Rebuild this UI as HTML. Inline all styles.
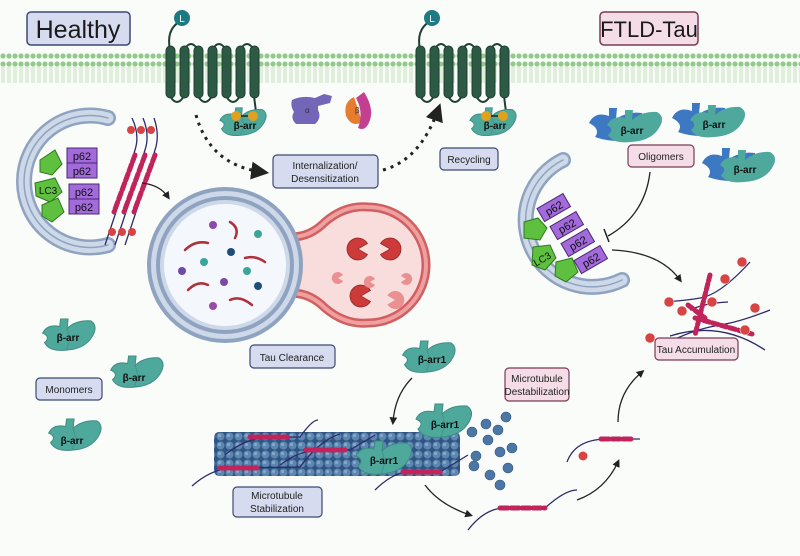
<!DOCTYPE html>
<html><head><meta charset="utf-8"><style>
body{margin:0;background:#fafcfa}
svg{display:block;font-family:"Liberation Sans",sans-serif}
</style></head><body>
<svg width="800" height="556" viewBox="0 0 800 556" xmlns="http://www.w3.org/2000/svg">
<defs>
<pattern id="mem" x="0" y="0" width="6" height="30" patternUnits="userSpaceOnUse">
<circle cx="3" cy="4" r="2.6" fill="#93c98b"/>
<circle cx="3" cy="26" r="2.6" fill="#93c98b"/>
<line x1="2" y1="7" x2="2" y2="23" stroke="#b6dcae" stroke-width="0.8"/>
<line x1="4" y1="7" x2="4" y2="23" stroke="#b6dcae" stroke-width="0.8"/>
</pattern>
<pattern id="mt" x="0" y="0" width="9" height="9" patternUnits="userSpaceOnUse">
<rect width="9" height="9" fill="#2f5683"/>
<circle cx="4.5" cy="4.5" r="4" fill="#5d86b0"/>
<circle cx="3.5" cy="3.5" r="1.6" fill="#86a8c8"/>
</pattern>
<symbol id="ba" viewBox="0 0 60 36">
<path d="M1,16 Q6,6 19,9 L20,1 L28,1 L27,11 Q36,2 52,3 Q60,8 54,19 Q46,33 26,34 Q8,36 3,26 Q10,20 1,16Z" fill="#4fa89c" stroke="#3d8c81" stroke-width="1"/>
<path d="M27,11 L30,22 L26,34" fill="none" stroke="#3f9589" stroke-width="1"/>
</symbol>
<symbol id="bo" viewBox="0 0 80 36">
<path d="M2,16 Q8,4 22,9 L22,1 L30,1 L29,12 Q40,4 55,6 L58,30 Q30,38 8,30 Q14,22 2,16Z" fill="#3d78c2"/>
<path d="M20,18 Q26,8 38,11 L38,3 L46,3 L45,13 Q55,4 70,5 Q79,10 72,21 Q64,34 44,35 Q26,37 21,28 Q28,22 20,18Z" fill="#4fa89c"/>
</symbol>
<g id="rec">
<g fill="none" stroke="#1e3f31" stroke-width="2">
<path d="M4,50 Q0,30 13,22"/>
<path d="M4,96 Q11,108 18,96"/><path d="M32,96 Q39,108 46,96"/><path d="M60,96 Q67,108 74,96"/>
<path d="M18,50 Q25,38 32,50"/><path d="M46,50 Q53,38 60,50"/><path d="M74,50 Q81,38 88,50"/>
<path d="M88,96 L90,112"/>
</g>
<g fill="#2d5a45" stroke="#1e3f31">
<rect x="0" y="46" width="9" height="52" rx="4.5"/><rect x="14" y="46" width="9" height="52" rx="4.5"/><rect x="28" y="46" width="9" height="52" rx="4.5"/><rect x="42" y="46" width="9" height="52" rx="4.5"/><rect x="56" y="46" width="9" height="52" rx="4.5"/><rect x="70" y="46" width="9" height="52" rx="4.5"/><rect x="84" y="46" width="9" height="52" rx="4.5"/>
</g>
</g>
<marker id="ah" viewBox="0 0 10 10" refX="6" refY="5" markerWidth="6" markerHeight="6" orient="auto"><path d="M0,0L10,5L0,10Z" fill="#222"/></marker>
</defs>
<rect width="800" height="556" fill="#fafcfa"/>
<rect x="0" y="53" width="800" height="30" fill="url(#mem)"/>
<rect x="27" y="12" width="103" height="33" rx="4" fill="#d6dbef" stroke="#3c4a73" stroke-width="1.5"/>
<text x="78" y="38" font-size="25" text-anchor="middle" fill="#1a1a1a">Healthy</text>
<rect x="600" y="12" width="98" height="33" rx="4" fill="#f4dde6" stroke="#7a3a55" stroke-width="1.5"/>
<text x="649" y="37" font-size="22" text-anchor="middle" fill="#1a1a1a">FTLD-Tau</text>
<use href="#rec" x="166" y="0"/>
<use href="#rec" x="416" y="0"/>
<circle cx="182" cy="18" r="8" fill="#1d7a82"/><text x="182" y="22" font-size="10" fill="#fff" text-anchor="middle">L</text>
<circle cx="432" cy="18" r="8" fill="#1d7a82"/><text x="432" y="22" font-size="10" fill="#fff" text-anchor="middle">L</text>
<use href="#ba" x="216" y="107" width="56" height="30"/>
<text x="245" y="129" font-size="10" font-weight="bold" text-anchor="middle" fill="#111">β-arr</text>
<circle cx="236" cy="116" r="5" fill="#e0a020"/><circle cx="253" cy="116" r="5" fill="#e0a020"/>
<line x1="241" y1="116" x2="248" y2="116" stroke="#222" stroke-width="1.5"/>
<use href="#ba" x="466" y="107" width="56" height="30"/>
<text x="495" y="129" font-size="10" font-weight="bold" text-anchor="middle" fill="#111">β-arr</text>
<circle cx="486" cy="116" r="5" fill="#e0a020"/><circle cx="503" cy="116" r="5" fill="#e0a020"/>
<line x1="491" y1="116" x2="498" y2="116" stroke="#222" stroke-width="1.5"/>
<path d="M292,100 Q302,95 315,98 L324,94 L332,96 L330,103 L318,106 L318,110 Q322,118 315,124 L296,124 Q290,118 294,112 Q290,106 292,100Z" fill="#7365b8"/>
<text x="305" y="113" font-size="8" fill="#333">α</text>
<path d="M354,97 Q343,102 346,116 Q352,128 362,122 Z" fill="#e57c30"/>
<path d="M364,92 Q374,108 370,120 Q366,132 358,128 Q364,112 356,98Z" fill="#c2408f"/>
<text x="355" y="113" font-size="8" fill="#333">β</text>
<path d="M196,115 Q210,165 262,172" fill="none" stroke="#222" stroke-width="3" stroke-dasharray="3,5" marker-end="url(#ah)"/>
<path d="M383,170 Q420,160 438,110" fill="none" stroke="#222" stroke-width="3" stroke-dasharray="3,5" marker-end="url(#ah)"/>
<rect x="273" y="155" width="105" height="33" rx="4" fill="#d6dbef" stroke="#3c4a73" stroke-width="1.2"/>
<text x="325" y="169" font-size="10" text-anchor="middle" fill="#222">Internalization/</text>
<text x="325" y="182" font-size="10" text-anchor="middle" fill="#222">Desensitization</text>
<rect x="440" y="148" width="58" height="22" rx="4" fill="#d6dbef" stroke="#3c4a73" stroke-width="1.2"/>
<text x="469" y="163" font-size="10" text-anchor="middle" fill="#222">Recycling</text>
<g fill="none" stroke-linecap="round">
<path d="M108,118 A66,66 0 1,0 108,245" stroke="#8fa3c0" stroke-width="16"/>
<path d="M108,118 A66,66 0 1,0 108,245" stroke="#cdd8e8" stroke-width="11"/>
<path d="M108,118 A66,66 0 1,0 108,245" stroke="#8fa3c0" stroke-width="1.5"/>
</g>
<g fill="#5fbf3f" stroke="#2e7a20"><path d="M40,160 L55,150 L62,164 L52,175 L40,172Z"/><path d="M35,183 L55,178 L62,192 L50,202 L36,196Z"/><path d="M42,205 L58,198 L64,212 L52,222 L42,216Z"/></g>
<text x="48" y="194" font-size="10" text-anchor="middle" fill="#111">LC3</text>
<g fill="#a26adb" stroke="#4a2870"><rect x="67" y="148" width="30" height="15"/><rect x="67" y="163" width="30" height="15"/><rect x="69" y="184" width="30" height="15"/><rect x="69" y="199" width="30" height="15"/></g>
<g font-size="11" text-anchor="middle" fill="#111"><text x="82" y="160">p62</text><text x="82" y="175">p62</text><text x="84" y="196">p62</text><text x="84" y="211">p62</text></g>
<g fill="none" stroke="#2e2a6a" stroke-width="1.3"><path d="M132,118 Q140,135 135,150 L115,215 Q110,230 105,245"/><path d="M143,118 Q150,135 145,150 L125,215 Q120,230 115,245"/><path d="M154,118 Q160,135 155,150 L135,215 Q130,230 125,245"/></g>
<g stroke="#c1245a" stroke-width="5" stroke-linecap="round" stroke-dasharray="7,3"><line x1="135" y1="155" x2="114" y2="212"/><line x1="145" y1="155" x2="124" y2="212"/><line x1="155" y1="155" x2="134" y2="212"/></g>
<g fill="#d84444"><circle cx="131" cy="130" r="4"/><circle cx="141" cy="130" r="4"/><circle cx="151" cy="130" r="4"/><circle cx="112" cy="232" r="4"/><circle cx="122" cy="232" r="4"/><circle cx="132" cy="232" r="4"/></g>
<path d="M142,183 Q160,185 168,197" fill="none" stroke="#222" stroke-width="1.3" marker-end="url(#ah)"/>
<path d="M280,235 Q305,242 325,222 Q345,205 368,207 A58,58 0 0,1 368,323 Q345,325 325,308 Q305,288 280,295Z" fill="#f9dcdc" stroke="#d25f5f" stroke-width="9"/>
<path d="M280,235 Q305,242 325,222 Q345,205 368,207 A58,58 0 0,1 368,323 Q345,325 325,308 Q305,288 280,295" fill="none" stroke="#eea0a0" stroke-width="4"/>
<circle cx="225" cy="265" r="78" fill="#8fa3c0"/>
<circle cx="225" cy="265" r="74" fill="#cdd8e8"/>
<circle cx="225" cy="265" r="69" fill="#8fa3c0"/>
<circle cx="225" cy="265" r="65" fill="#cdd8e8"/>
<circle cx="225" cy="265" r="61" fill="#f4f7fc"/>
<g fill="none" stroke="#b0303a" stroke-width="2.5" stroke-linecap="round"><path d="M185,250 Q195,240 208,243"/><path d="M230,222 Q240,228 235,238"/><path d="M245,258 Q255,255 265,262"/><path d="M188,290 Q198,280 208,285"/><path d="M230,300 Q240,295 252,305"/></g>
<g><circle cx="213" cy="225" r="4" fill="#8e4aa8"/><circle cx="258" cy="234" r="4" fill="#3aa69a"/><circle cx="231" cy="252" r="4" fill="#1f4d7a"/><circle cx="204" cy="262" r="4" fill="#3aa69a"/><circle cx="182" cy="271" r="4" fill="#6b4aa8"/><circle cx="247" cy="271" r="4" fill="#3aa69a"/><circle cx="224" cy="282" r="4" fill="#7b4aa8"/><circle cx="258" cy="286" r="4" fill="#1f4d7a"/><circle cx="213" cy="306" r="4" fill="#9a4aa8"/></g>
<g fill="#cc3a3a" stroke="#8a2020" stroke-width="0.7">
<path d="M358,249 L367.5,254.5 A11,11 0 1,1 367.5,243.5Z"/>
<path d="M390,249 L380.5,243.5 A11,11 0 1,1 380.5,254.5Z"/>
<path d="M361,296 L370.5,301.5 A11,11 0 1,1 370.5,290.5Z"/>
</g>
<g fill="#ea9090">
<path d="M338,278 L343,281 A6,6 0 1,1 343,275Z"/>
<path d="M370,282 L375,285 A6,6 0 1,1 375,279Z"/>
<path d="M406,279 L401,276 A6,6 0 1,1 401,282Z"/>
<path d="M395,300 L387.5,295.5 A9,9 0 1,1 387.5,304.5Z"/>
</g>
<rect x="250" y="345" width="85" height="23" rx="4" fill="#d6dbef" stroke="#3c4a73" stroke-width="1.2"/>
<text x="292" y="361" font-size="10" text-anchor="middle" fill="#222">Tau Clearance</text>
<use href="#ba" x="40" y="318" width="60" height="34"/><text x="68" y="341" font-size="10" font-weight="bold" text-anchor="middle" fill="#111">β-arr</text>
<use href="#ba" x="108" y="355" width="60" height="34"/><text x="134" y="381" font-size="10" font-weight="bold" text-anchor="middle" fill="#111">β-arr</text>
<use href="#ba" x="46" y="418" width="60" height="34"/><text x="72" y="444" font-size="10" font-weight="bold" text-anchor="middle" fill="#111">β-arr</text>
<rect x="36" y="378" width="66" height="22" rx="4" fill="#d6dbef" stroke="#3c4a73" stroke-width="1.2"/>
<text x="69" y="393" font-size="10" text-anchor="middle" fill="#222">Monomers</text>
<use href="#bo" x="587" y="107" width="80" height="36"/><text x="632" y="134" font-size="10" font-weight="bold" text-anchor="middle" fill="#111">β-arr</text>
<use href="#bo" x="670" y="102" width="80" height="36"/><text x="714" y="128" font-size="10" font-weight="bold" text-anchor="middle" fill="#111">β-arr</text>
<use href="#bo" x="700" y="147" width="80" height="36"/><text x="745" y="173" font-size="10" font-weight="bold" text-anchor="middle" fill="#111">β-arr</text>
<rect x="628" y="145" width="66" height="22" rx="4" fill="#f4dde6" stroke="#7a3a55" stroke-width="1.2"/>
<text x="661" y="160" font-size="10" text-anchor="middle" fill="#222">Oligomers</text>
<g fill="none" stroke-linecap="round">
<path d="M563,160 A66,66 0 1,0 622,280" stroke="#8fa3c0" stroke-width="16"/>
<path d="M563,160 A66,66 0 1,0 622,280" stroke="#cdd8e8" stroke-width="11"/>
<path d="M563,160 A66,66 0 1,0 622,280" stroke="#8fa3c0" stroke-width="1.5"/>
</g>
<g fill="#5fbf3f" stroke="#2e7a20"><path d="M524,222 L538,218 L547,228 L540,240 L524,238Z"/><path d="M533,247 L550,245 L556,258 L545,270 L532,265Z"/><path d="M556,262 L572,258 L578,272 L566,282 L555,276Z"/></g>
<text x="544" y="262" font-size="10" text-anchor="middle" fill="#111" transform="rotate(-30 544 262)">LC3</text>
<g fill="#a26adb" stroke="#4a2870"><rect x="539" y="200" width="30" height="15" transform="rotate(-30 554 208)"/><rect x="552" y="218" width="30" height="15" transform="rotate(-30 567 226)"/><rect x="563" y="235" width="30" height="15" transform="rotate(-30 578 243)"/><rect x="576" y="252" width="30" height="15" transform="rotate(-30 591 260)"/></g>
<g font-size="11" text-anchor="middle" fill="#111"><text x="554" y="212" transform="rotate(-30 554 208)">p62</text><text x="567" y="230" transform="rotate(-30 567 226)">p62</text><text x="578" y="247" transform="rotate(-30 578 243)">p62</text><text x="591" y="264" transform="rotate(-30 591 260)">p62</text></g>
<path d="M650,172 Q645,215 608,236" fill="none" stroke="#222" stroke-width="1.3"/>
<line x1="604" y1="229" x2="609" y2="242" stroke="#222" stroke-width="1.5"/>
<path d="M612,250 Q660,252 680,280" fill="none" stroke="#222" stroke-width="1.3" marker-end="url(#ah)"/>
<g fill="none" stroke="#2e2a6a" stroke-width="1.3"><path d="M665,302 Q690,300 700,298 Q720,295 750,262"/><path d="M664,345 Q690,330 720,325 Q740,322 770,310"/><path d="M670,336 Q720,320 765,350"/><path d="M690,310 Q705,303 728,302"/></g>
<g stroke="#c1245a" stroke-width="5" stroke-linecap="round" stroke-dasharray="6,3"><line x1="710" y1="275" x2="695" y2="335"/><line x1="695" y1="318" x2="752" y2="334"/><line x1="688" y1="305" x2="705" y2="318"/></g>
<g fill="#d84444" stroke="#fff" stroke-width="0.5"><circle cx="742" cy="262" r="5"/><circle cx="725" cy="279" r="5"/><circle cx="669" cy="302" r="5"/><circle cx="682" cy="311" r="5"/><circle cx="712" cy="302" r="5"/><circle cx="755" cy="308" r="5"/><circle cx="745" cy="330" r="5"/><circle cx="650" cy="338" r="5"/><circle cx="675" cy="345" r="5"/></g>
<rect x="655" y="338" width="83" height="22" rx="4" fill="#f4dde6" stroke="#7a3a55" stroke-width="1.2"/>
<text x="696" y="353" font-size="10" text-anchor="middle" fill="#222">Tau Accumulation</text>
<rect x="214" y="432" width="246" height="44" rx="5" fill="url(#mt)"/>
<g fill="#4c77a4" stroke="#2f5683" stroke-width="0.6"><circle cx="472" cy="432" r="5"/><circle cx="486" cy="424" r="5"/><circle cx="506" cy="417" r="5"/><circle cx="488" cy="440" r="5"/><circle cx="500" cy="452" r="5"/><circle cx="476" cy="456" r="5"/><circle cx="512" cy="448" r="5"/><circle cx="490" cy="475" r="5"/><circle cx="508" cy="468" r="5"/><circle cx="498" cy="430" r="5"/><circle cx="474" cy="466" r="5"/><circle cx="500" cy="485" r="5"/></g>
<g fill="none" stroke="#2e2a6a" stroke-width="1.3"><path d="M192,486 Q210,470 230,468 L300,467 Q320,440 340,434"/><path d="M225,455 Q245,438 270,437 L300,437 Q312,420 318,420"/><path d="M280,465 Q300,450 320,450 L350,450 Q375,435 375,435"/><path d="M375,490 Q390,475 405,472 L440,472 Q460,460 468,455"/></g>
<g stroke="#c1245a" stroke-width="5" stroke-linecap="round" stroke-dasharray="8,3"><line x1="220" y1="468" x2="257" y2="468"/><line x1="250" y1="437" x2="287" y2="437"/><line x1="306" y1="450" x2="345" y2="450"/><line x1="403" y1="472" x2="440" y2="472"/></g>
<use href="#ba" x="354" y="440" width="62" height="36"/><text x="384" y="464" font-size="10" font-weight="bold" text-anchor="middle" fill="#111">β-arr1</text>
<use href="#ba" x="414" y="403" width="62" height="36"/><text x="445" y="428" font-size="10" font-weight="bold" text-anchor="middle" fill="#111">β-arr1</text>
<use href="#ba" x="400" y="340" width="60" height="34"/><text x="432" y="363" font-size="10" font-weight="bold" text-anchor="middle" fill="#111">β-arr1</text>
<path d="M412,378 Q395,395 393,422" fill="none" stroke="#222" stroke-width="1.3" marker-end="url(#ah)"/>
<rect x="505" y="368" width="64" height="33" rx="4" fill="#f4dde6" stroke="#7a3a55" stroke-width="1.2"/>
<text x="537" y="382" font-size="10" text-anchor="middle" fill="#222">Microtubule</text>
<text x="537" y="395" font-size="10" text-anchor="middle" fill="#222">Destabilization</text>
<rect x="233" y="487" width="89" height="30" rx="4" fill="#d6dbef" stroke="#3c4a73" stroke-width="1.2"/>
<text x="277" y="499" font-size="10" text-anchor="middle" fill="#222">Microtubule</text>
<text x="277" y="512" font-size="10" text-anchor="middle" fill="#222">Stabilization</text>
<path d="M425,485 Q440,505 470,515" fill="none" stroke="#222" stroke-width="1.3" marker-end="url(#ah)"/>
<path d="M468,530 Q485,508 505,508 L545,508 Q565,490 577,490" fill="none" stroke="#2e2a6a" stroke-width="1.3"/>
<line x1="500" y1="508" x2="545" y2="508" stroke="#c1245a" stroke-width="5" stroke-linecap="round" stroke-dasharray="8,3"/>
<path d="M577,500 Q605,490 618,462" fill="none" stroke="#222" stroke-width="1.3" marker-end="url(#ah)"/>
<path d="M567,462 Q575,440 605,439 L640,439" fill="none" stroke="#2e2a6a" stroke-width="1.3"/>
<line x1="601" y1="439" x2="632" y2="439" stroke="#c1245a" stroke-width="5" stroke-linecap="round" stroke-dasharray="8,3"/>
<circle cx="583" cy="456" r="4.5" fill="#d84444"/>
<path d="M618,422 Q618,392 642,372" fill="none" stroke="#222" stroke-width="1.3" marker-end="url(#ah)"/>
</svg>
</body></html>
